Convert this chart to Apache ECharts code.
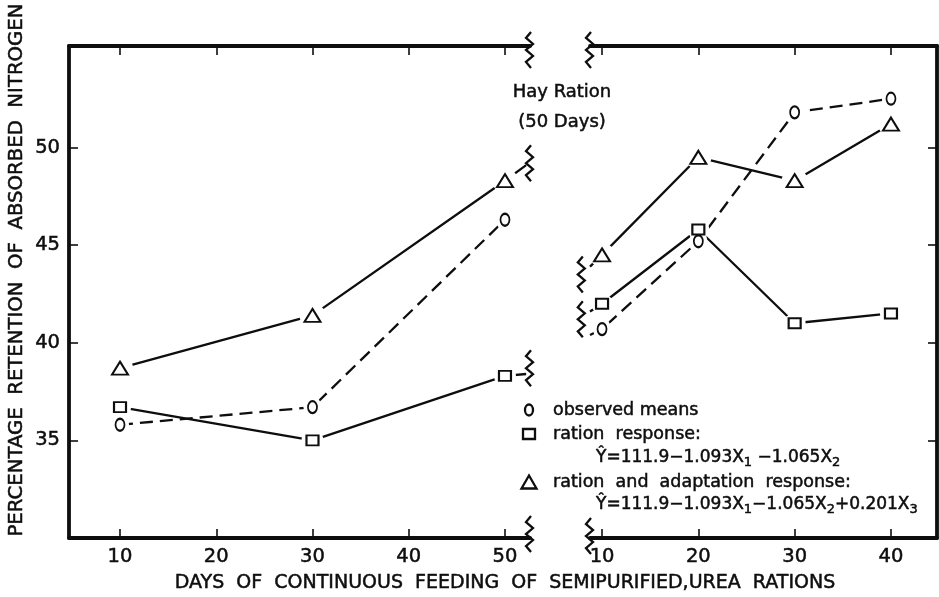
<!DOCTYPE html>
<html>
<head>
<meta charset="utf-8">
<script src="https://cdn.jsdelivr.net/npm/echarts@6/dist/echarts.min.js"></script>
<style>
  html, body { margin: 0; padding: 0; background: #fff; }
  #chart { width: 939px; height: 597px; }
</style>
</head>
<body>
<div id="chart"></div>
<script>
// Feeding days: semipurified urea ration (left panel) and hay ration (right panel)
const daysSemipurified = [10, 30, 50];
const daysHay = [10, 20, 30, 40];
const tickDaysLeft = [10, 20, 30, 40, 50];
const tickDaysRight = [10, 20, 30, 40];
const tickRetention = [35, 40, 45, 50];

// Percentage retention of absorbed nitrogen
const observedLeft = [35.8, 36.7, 46.3];
const observedRight = [40.7, 45.2, 51.8, 52.5];
const rationLeft = [36.7, 35.0, 38.3];
const rationRight = [42.0, 45.8, 41.0, 41.5];
const adaptationLeft = [38.7, 41.4, 48.3];
const adaptationRight = [44.5, 49.5, 48.3, 51.2];

// Where the curves run into the broken axis
const breakDayLeft = 52.2;
const breakDayRight = 8.75;
const rationBreakLeft = 38.4;
const adaptationBreakLeft = 49.1;
const observedBreakRight = 40.4;
const rationBreakRight = 41.6;
const adaptationBreakRight = 43.9;

// Break glyph anchors [day, retention]
const breakGlyphsLeft = [[52.6, 55.0], [52.6, 30.2], [52.6, 49.2], [52.6, 38.7]];
const breakGlyphsRight = [[8.75, 55.0], [8.75, 30.1], [7.9, 43.5], [7.9, 41.2]];

const INK = '#0e0e0e';
const FONT = 'DejaVu Sans';

function pairs(days, vals) {
  return days.map((d, i) => [d, vals[i]]);
}

// zigzag break mark
const ZIG = [[1, -18], [-4, -12], [3, -6], [-4, 0], [3, 6], [-4, 12], [1, 18]];
function renderZigzag(params, api) {
  const p = api.coord([api.value(0), api.value(1)]);
  return {
    type: 'polyline',
    shape: { points: ZIG.map(([dx, dy]) => [p[0] + dx, p[1] + dy]) },
    style: { stroke: INK, lineWidth: 2.3, fill: null }
  };
}

// heavier strokes for axis labels / for graphic text
const heavyLabel = { textBorderColor: INK, textBorderWidth: 0.5 };
const heavyText = { stroke: INK, lineWidth: 0.5 };
const axisLineStyle = { show: true, onZero: false, lineStyle: { color: INK, width: 3.8 } };
function tickStyle(values) {
  return { show: true, inside: true, length: 9, customValues: values, lineStyle: { color: INK, width: 1.6 } };
}
function labelStyle(values) {
  return Object.assign({ show: true, customValues: values, margin: 9, fontSize: 19.5, fontFamily: FONT, color: INK }, heavyLabel);
}

function xAxisDef(gridIndex, position, min, max, ticks, withLabels) {
  return {
    type: 'value', gridIndex, position, min, max,
    axisLine: axisLineStyle,
    axisTick: tickStyle(ticks),
    axisLabel: withLabels ? labelStyle(ticks) : { show: false },
    splitLine: { show: false }
  };
}

function curve(name, data, xi, dashed) {
  return {
    name, type: 'line', xAxisIndex: xi, yAxisIndex: xi, data,
    showSymbol: false, symbol: 'none', z: 1, silent: true, animation: false,
    lineStyle: { color: INK, width: 2.3, type: dashed ? [13, 7] : 'solid' }
  };
}
// white halo under each marker leaves a small gap where the line meets it
function marks(name, data, xi, symbol, size, haloSize) {
  return [
    {
      name: name + ' halo', type: 'scatter', xAxisIndex: xi, yAxisIndex: xi, data,
      symbol: 'circle', symbolSize: haloSize, z: 6, silent: true, animation: false,
      itemStyle: { color: '#ffffff', opacity: 1 }
    },
    {
      name, type: 'scatter', xAxisIndex: xi, yAxisIndex: xi, data,
      symbol: 'empty' + symbol.charAt(0).toUpperCase() + symbol.slice(1), symbolSize: size,
      z: 7, silent: true, animation: false,
      itemStyle: { color: INK, borderColor: INK, borderWidth: 2.3, opacity: 1 }
    }
  ];
}

const circleSize = [9, 12], circleHalo = [18, 22];
const rectSize = [12, 10], rectHalo = [22, 20];
const triSize = [16, 13], triHalo = [26, 24];

const series = [
  // semipurified ration panel
  curve('observed means', pairs(daysSemipurified, observedLeft), 0, true),
  curve('ration response', pairs(daysSemipurified, rationLeft).concat([[breakDayLeft, rationBreakLeft]]), 0, false),
  curve('ration and adaptation response', pairs(daysSemipurified, adaptationLeft).concat([[breakDayLeft, adaptationBreakLeft]]), 0, false),
  ...marks('observed means', pairs(daysSemipurified, observedLeft), 0, 'circle', circleSize, circleHalo),
  ...marks('ration response', pairs(daysSemipurified, rationLeft), 0, 'rect', rectSize, rectHalo),
  ...marks('ration and adaptation response', pairs(daysSemipurified, adaptationLeft), 0, 'triangle', triSize, triHalo),
  // hay ration panel
  curve('observed means', [[breakDayRight, observedBreakRight]].concat(pairs(daysHay, observedRight)), 1, true),
  curve('ration response', [[breakDayRight, rationBreakRight]].concat(pairs(daysHay, rationRight)), 1, false),
  curve('ration and adaptation response', [[breakDayRight, adaptationBreakRight]].concat(pairs(daysHay, adaptationRight)), 1, false),
  ...marks('observed means', pairs(daysHay, observedRight), 1, 'circle', circleSize, circleHalo),
  ...marks('ration response', pairs(daysHay, rationRight), 1, 'rect', rectSize, rectHalo),
  ...marks('ration and adaptation response', pairs(daysHay, adaptationRight), 1, 'triangle', triSize, triHalo),
  // axis breaks
  { type: 'custom', xAxisIndex: 0, yAxisIndex: 0, data: breakGlyphsLeft, renderItem: renderZigzag, clip: false, z: 8, silent: true, animation: false },
  { type: 'custom', xAxisIndex: 1, yAxisIndex: 1, data: breakGlyphsRight, renderItem: renderZigzag, clip: false, z: 8, silent: true, animation: false }
];

const legendText = Object.assign({ fontSize: 17.5, fontFamily: FONT, fill: INK, verticalAlign: 'middle', align: 'left' }, heavyText);
const eqRich = {
  t: Object.assign({ fontSize: 17, fontFamily: FONT, fill: INK, lineHeight: 22 }, heavyText),
  s: Object.assign({ fontSize: 13, fontFamily: FONT, fill: INK, lineHeight: 4, verticalAlign: 'bottom' }, heavyText)
};

const option = {
  backgroundColor: '#ffffff',
  animation: false,
  grid: [
    { left: 69, top: 46, width: 461, height: 492 },
    { left: 590, top: 46, width: 347, height: 492 }
  ],
  xAxis: [
    xAxisDef(0, 'bottom', 4.7, 52.6, tickDaysLeft, true),
    xAxisDef(1, 'bottom', 8.75, 44.78, tickDaysRight, true),
    xAxisDef(0, 'top', 4.7, 52.6, tickDaysLeft, false),
    xAxisDef(1, 'top', 8.75, 44.78, tickDaysRight, false)
  ],
  yAxis: [
    {
      type: 'value', gridIndex: 0, position: 'left', min: 30, max: 55.2,
      axisLine: axisLineStyle, axisTick: tickStyle(tickRetention),
      axisLabel: labelStyle(tickRetention), splitLine: { show: false }
    },
    {
      type: 'value', gridIndex: 1, position: 'right', min: 30, max: 55.2,
      axisLine: axisLineStyle, axisTick: tickStyle(tickRetention),
      axisLabel: { show: false }, splitLine: { show: false }
    }
  ],
  series,
  graphic: [
    {
      type: 'text', x: 17, y: 270, rotation: Math.PI / 2,
      style: Object.assign({ text: 'PERCENTAGE  RETENTION  OF  ABSORBED  NITROGEN', fontSize: 19.7, fontFamily: FONT, fill: INK, align: 'center', verticalAlign: 'middle' }, heavyText)
    },
    {
      type: 'text', x: 505, y: 583,
      style: Object.assign({ text: 'DAYS  OF  CONTINUOUS  FEEDING  OF  SEMIPURIFIED,UREA  RATIONS', fontSize: 19, fontFamily: FONT, fill: INK, align: 'center', verticalAlign: 'middle' }, heavyText)
    },
    { type: 'text', x: 562, y: 92, style: Object.assign({ text: 'Hay Ration', fontSize: 18, fontFamily: FONT, fill: INK, align: 'center', verticalAlign: 'middle' }, heavyText) },
    { type: 'text', x: 562, y: 122, style: Object.assign({ text: '(50 Days)', fontSize: 18, fontFamily: FONT, fill: INK, align: 'center', verticalAlign: 'middle' }, heavyText) },
    // key
    { type: 'ellipse', shape: { cx: 529, cy: 410, rx: 4, ry: 5.5 }, style: { fill: null, stroke: INK, lineWidth: 2.3 } },
    { type: 'text', x: 553, y: 410, style: Object.assign({ text: 'observed means' }, legendText) },
    { type: 'rect', shape: { x: 523, y: 429, width: 12, height: 10 }, style: { fill: null, stroke: INK, lineWidth: 2.3 } },
    { type: 'text', x: 553, y: 434, style: Object.assign({ text: 'ration  response:' }, legendText) },
    {
      type: 'text', x: 596, y: 458,
      style: { text: '{t|Ŷ=111.9−1.093X}{s|1}{t| −1.065X}{s|2}', rich: eqRich, verticalAlign: 'middle', align: 'left' }
    },
    { type: 'polygon', shape: { points: [[521.5, 488.5], [529, 475.5], [536.5, 488.5]] }, style: { fill: null, stroke: INK, lineWidth: 2.3 } },
    { type: 'text', x: 553, y: 482, style: Object.assign({ text: 'ration  and  adaptation  response:' }, legendText) },
    {
      type: 'text', x: 596, y: 505,
      style: { text: '{t|Ŷ=111.9−1.093X}{s|1}{t|−1.065X}{s|2}{t|+0.201X}{s|3}', rich: eqRich, verticalAlign: 'middle', align: 'left' }
    }
  ]
};

const chart = echarts.init(document.getElementById('chart'));
chart.setOption(option);
</script>
</body>
</html>
